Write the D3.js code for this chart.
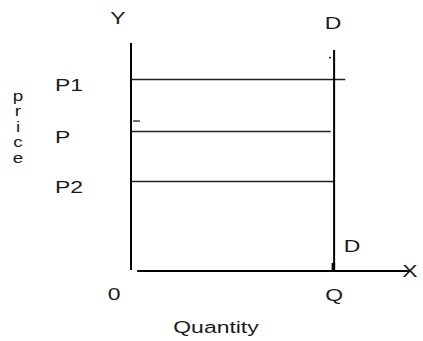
<!DOCTYPE html>
<html><head><meta charset="utf-8">
<script src="https://cdn.jsdelivr.net/npm/d3@7"></script>
<style>
html,body{margin:0;padding:0;background:#fff;}
svg{display:block;}
text{font-family:"Liberation Sans",Arial,sans-serif;font-size:17px;fill:#1a1a1a;}
</style></head>
<body>
<svg id="c" width="423" height="341"></svg>
<script>
// ---- data ----
const priceLabels = ["P1", "P", "P2"];
const priceValues = [84, 61.5, 39.5];          // price levels
const priceLineEnds = [76.8, 71.6, 72.8];      // quantity where each price line stops
const demandQuantity = 72.8;                   // Q (vertical demand curve)
const demandTop = 96.9;
const xAxisRange = [2.2, 100];
const yAxisRange = [0, 100];
const yAxisLetters = ["p", "r", "i", "c", "e"];

const svg = d3.select("#c");
const x = d3.scaleLinear().domain([0, 100]).range([131, 410]);
const y = d3.scaleLinear().domain([0, 100]).range([271, 43]);

function label(txt, px, py, anchor) {
  svg.append("text")
    .attr("transform", `translate(${px},${py}) scale(1.35,1)`)
    .attr("text-anchor", anchor || "start")
    .text(txt);
}

// Y axis
svg.append("line").attr("x1", x(0)).attr("x2", x(0))
  .attr("y1", y(yAxisRange[1])).attr("y2", y(0) - 1)
  .attr("stroke", "#000").attr("stroke-width", 2);
// X axis
svg.append("line").attr("x1", x(xAxisRange[0])).attr("x2", x(xAxisRange[1]))
  .attr("y1", y(0)).attr("y2", y(0))
  .attr("stroke", "#000").attr("stroke-width", 2);

// price lines
svg.selectAll("line.price").data(priceValues).enter().append("line")
  .attr("class", "price")
  .attr("x1", x(0)).attr("x2", (d, i) => x(priceLineEnds[i]))
  .attr("y1", d => Math.round(y(d)) + 0.5).attr("y2", d => Math.round(y(d)) + 0.5)
  .attr("stroke", "#222").attr("stroke-width", 1.5);

// demand line
svg.append("line").attr("x1", x(demandQuantity)).attr("x2", x(demandQuantity))
  .attr("y1", y(demandTop)).attr("y2", y(0))
  .attr("stroke", "#000").attr("stroke-width", 2);
// small thick mark at the foot of D
svg.append("rect").attr("x", x(demandQuantity) - 2.5).attr("y", y(0) - 8)
  .attr("width", 3.5).attr("height", 8).attr("fill", "#000");
// stray dot near top of D
svg.append("rect").attr("x", x(demandQuantity) - 5).attr("y", y(93.5) - 1)
  .attr("width", 1.6).attr("height", 1.6).attr("fill", "#000");
// small tick near P on Y axis
svg.append("line").attr("x1", x(0) + 2).attr("x2", x(0) + 9)
  .attr("y1", y(66) + 0.5).attr("y2", y(66) + 0.5)
  .attr("stroke", "#222").attr("stroke-width", 1.3);

// labels
label("Y", 118, 24, "middle");
label("D", 333, 29, "middle");
label("D", 352, 252, "middle");
label("X", 410, 277, "middle");
label("0", 114, 300, "middle");
label("Q", x(demandQuantity), 301, "middle");
label("Quantity", 216, 333, "middle");
priceLabels.forEach((t, i) => label(t, 55, y(priceValues[i]) + 12));

// vertical "price" as one text element, one letter per line
const sy = 1.15;
const letterY = [101, 116.5, 132, 147.5, 163];
const pt = svg.append("text")
  .attr("transform", `scale(1.45,${sy})`)
  .attr("text-anchor", "middle")
  .style("font-size", "13px");
pt.selectAll("tspan").data(yAxisLetters).enter().append("tspan")
  .attr("x", 18 / 1.45)
  .attr("y", (d, i) => letterY[i] / sy)
  .text(d => d);
</script>
</body></html>
